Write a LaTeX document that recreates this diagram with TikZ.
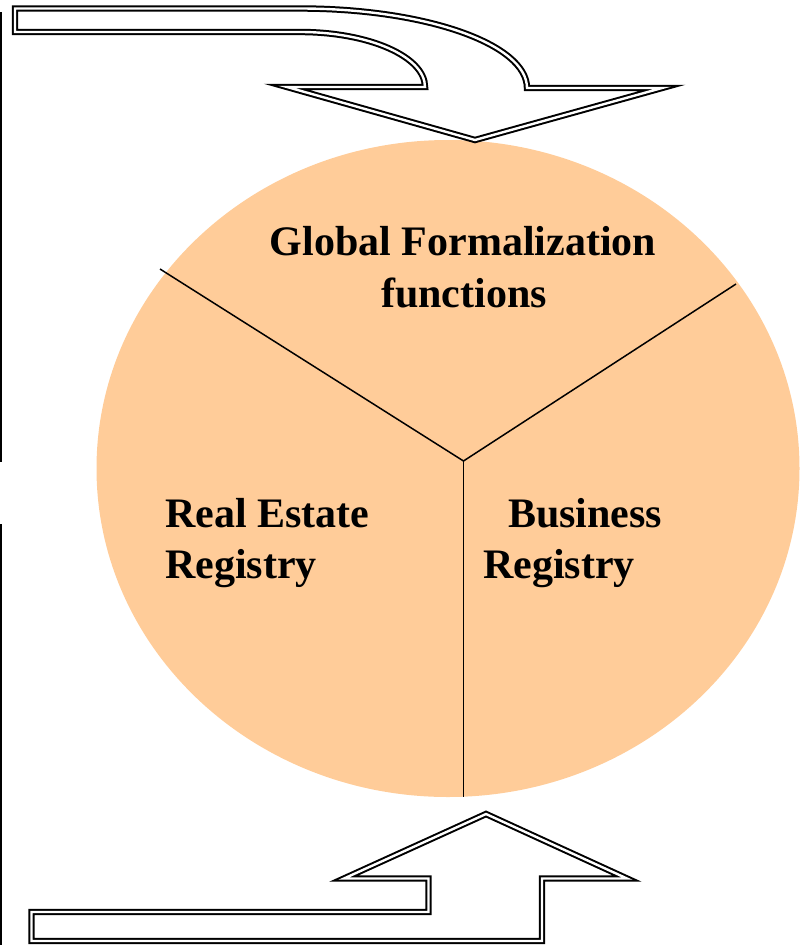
\documentclass[tikz,border=0pt]{standalone}
\usepackage{fontspec}
\setmainfont{Liberation Serif}
\begin{document}
\begin{tikzpicture}[x=1pt,y=-1pt,
  bigarrow/.style={draw=black,line width=2pt,double=white,double distance=2.4pt,fill=white,line join=miter},
  divider/.style={draw=black,line width=1.5pt},
  label/.style={font=\fontsize{42}{52}\selectfont\bfseries,inner sep=0pt},
  edge/.style={draw=black,line width=2pt}]
\useasboundingbox (0,0) rectangle (802,945);
\definecolor{peach}{HTML}{FFCC99}

% page edge marks on the left
\coordinate (e1) at (1,12);
\coordinate (e2) at (1,462);
\coordinate (e3) at (1,524);
\coordinate (e4) at (1,945);
\draw[edge] (e1) -- (e2);
\draw[edge] (e3) -- (e4);

% the disc
\fill[peach] (448,468.5) ellipse [x radius=351.5, y radius=328.5];

% the three sectors
\coordinate (hub) at (463.5,461);
\coordinate (leftend) at (160,269);
\coordinate (rightend) at (736,284);
\coordinate (bottomend) at (463.5,797);
\draw[divider] (leftend) -- (hub) -- (rightend);
\draw[divider] (hub) -- (bottomend);

% curved arrow coming in from the top
\draw[bigarrow] (15,8.5) -- (300,8.5)
  arc[start angle=-90, end angle=0, x radius=227, y radius=79.5]
  -- (662,88) -- (475,140) -- (287,87) -- (425,87)
  arc[start angle=0, end angle=-90, x radius=125, y radius=55]
  -- (15,32) -- cycle;

% stepped arrow coming in from the bottom
\draw[bigarrow] (31.5,912) -- (428.5,912) -- (428.5,878.5) -- (344,878.5)
  -- (486,814) -- (627,878.5) -- (542,878.5) -- (542,941) -- (31.5,941) -- cycle;

% labels
\node[label,anchor=base] (g1) at (463,255) {Global Formalization};
\node[label,anchor=base] (g2) at (464,307) {functions};
\node[label,anchor=base west] (r1) at (165,527) {Real Estate};
\node[label,anchor=base west] (r2) at (165,578) {Registry};
\node[label,anchor=base west] (b1) at (508,527) {Business};
\node[label,anchor=base west] (b2) at (483,578) {Registry};
\end{tikzpicture}
\end{document}
